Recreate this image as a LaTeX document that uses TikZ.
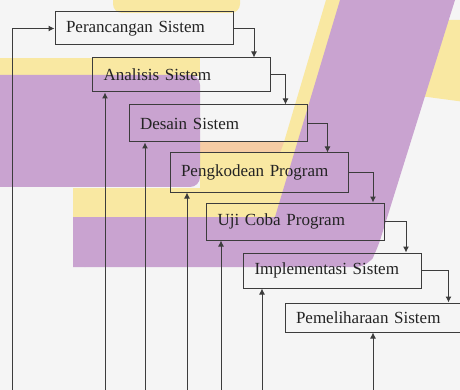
\documentclass[tikz,border=0pt]{standalone}
\usepackage{fontspec}
\setmainfont{Liberation Serif}
\usetikzlibrary{arrows.meta,calc}
\definecolor{bgc}{RGB}{245,245,245}
\definecolor{purp}{RGB}{201,163,208}
\definecolor{yel}{RGB}{249,232,162}
\definecolor{peach}{RGB}{246,204,164}
\definecolor{linec}{RGB}{60,60,60}
\definecolor{textc}{RGB}{35,35,35}
\tikzset{
  box/.style={draw=linec, line width=1pt, rectangle, inner xsep=11pt, inner ysep=0pt,
    text width=156pt, align=left, minimum width=178pt, text=textc,
    font=\fontsize{17}{20}\selectfont},
  arr/.style={draw=linec, line width=1pt, -{Latex[length=6pt,width=6pt]}},
}
\begin{document}
\begin{tikzpicture}[x=1pt,y=-1pt]
\useasboundingbox (0,0) rectangle (460,390);
\clip (0,0) rectangle (460,390);
% background watermark
\fill[bgc] (0,0) rectangle (460,390);
\fill[yel, rounded corners=9pt] (113,-10) rectangle (240,13);
\fill[yel] (0,58) rectangle (200,76);
\fill[yel] (326,0) -- (350,0) -- (268,240) -- (73,240) -- (73,188) -- (200,188) -- (200,142) -- (284,142) -- cycle;
\fill[peach] (200,142) -- (284,142) -- (280,153) -- (200,153) -- cycle;
\fill[yel] (440,20) -- (465,20) -- (465,102) -- (420,96) -- cycle;
\fill[purp, rounded corners=10pt] (-10,75) -- (200,75) -- (200,187) -- (-10,187) -- cycle;
\fill[purp] (340,0) -- (455,0) [rounded corners=12pt] -- (377,250) -- (368,267) -- (73,267) [sharp corners] -- (73,217) -- (275,217) -- cycle;
\fill[purp] (85,267) -- (73,267) -- (73,255) -- cycle;
% boxes
\node[box, minimum height=33pt] (b1) at (144,28.5) {Perancangan Sistem};
\node[box, minimum height=34pt] (b2) at (181.5,75) {Analisis Sistem};
\node[box, minimum height=37pt] (b3) at (218,123.5) {Desain Sistem};
\node[box, minimum height=39pt] (b4) at (259,172.5) {Pengkodean Program};
\node[box, minimum height=37pt] (b5) at (295.5,221.5) {Uji Coba Program};
\node[box, minimum height=35pt] (b6) at (332.5,270.5) {Implementasi Sistem};
\node[box, minimum height=29pt] (b7) at (374,317.5) {Pemeliharaan Sistem};
% forward connectors
\draw[arr] (b1.east) -| ([xshift=162pt]b2.north west);
\draw[arr] (b2.east) -| ([xshift=157pt]b3.north west);
\draw[arr] (b3.east) -| ([xshift=158pt]b4.north west);
\draw[arr] (b4.east) -| ([xshift=167pt]b5.north west);
\draw[arr] (b5.east) -| ([xshift=163pt]b6.north west);
\draw[arr] (b6.east) -| ([xshift=164pt]b7.north west);
% feedback connectors from bottom
\coordinate (s1) at (12,392);
\coordinate (s2) at (105,392);
\coordinate (s3) at (145,392);
\coordinate (s4) at (187,392);
\coordinate (s5) at (221,392);
\coordinate (s6) at (262,392);
\coordinate (s7) at (373,392);
\draw[arr] (s1) |- (b1.west);
\draw[arr] (s2) -- (s2 |- b2.south);
\draw[arr] (s3) -- (s3 |- b3.south);
\draw[arr] (s4) -- (s4 |- b4.south);
\draw[arr] (s5) -- (s5 |- b5.south);
\draw[arr] (s6) -- (s6 |- b6.south);
\draw[arr] (s7) -- (s7 |- b7.south);
\end{tikzpicture}
\end{document}
